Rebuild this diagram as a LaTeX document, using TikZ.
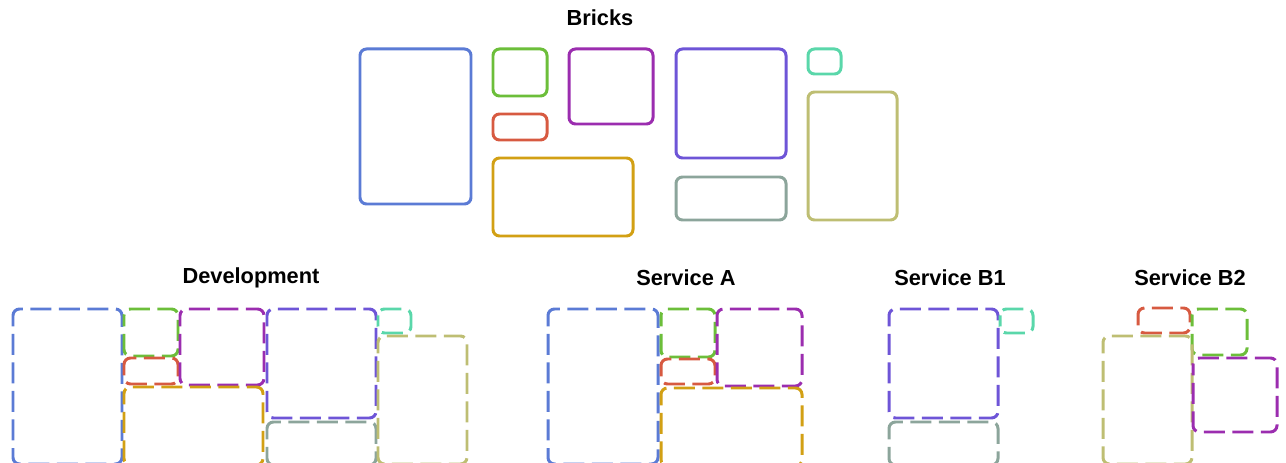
\documentclass[tikz,border=0pt]{standalone}
\usepackage{fontspec}
\setmainfont{Liberation Sans}

\definecolor{bkblue}{RGB}{91,123,213}
\definecolor{bkgreen}{RGB}{108,190,58}
\definecolor{bkred}{RGB}{215,90,65}
\definecolor{bkpurple}{RGB}{155,45,175}
\definecolor{bkgold}{RGB}{210,160,20}
\definecolor{bkviolet}{RGB}{110,85,215}
\definecolor{bkgrey}{RGB}{140,165,155}
\definecolor{bkteal}{RGB}{90,215,170}
\definecolor{bkolive}{RGB}{190,190,115}

\begin{document}
\begin{tikzpicture}[
  x=0.2mm, y=-0.2mm,
  font=\fontsize{12.4}{14}\selectfont\bfseries,
  brick/.style={
    line width=1.7pt,
    rounded corners=1.3mm
  },
  slot/.style={
    brick,
    dash pattern=on 4.2mm off 1.5mm,
    dash phase=2mm
  },
  title/.style={
    align=center,
    inner sep=0pt
  }
]

\useasboundingbox (0,0) rectangle (1286,463);
\clip (0,0) rectangle (1286,463);

% bricks
\node[title] (bricks) at (600,18) {Bricks};

\draw[brick, bkblue]   (360,49)  rectangle (471,204);
\draw[brick, bkgreen]  (493,49)  rectangle (547,96);
\draw[brick, bkred]    (493,114) rectangle (547,140);
\draw[brick, bkpurple] (569,49)  rectangle (653,124);
\draw[brick, bkgold]   (493,158) rectangle (633,236);
\draw[brick, bkviolet] (676,49)  rectangle (786,158);
\draw[brick, bkgrey]   (676,177) rectangle (786,220);
\draw[brick, bkteal]   (808,49)  rectangle (841,74);
\draw[brick, bkolive]  (808,92)  rectangle (897,220);

% development
\node[title] (dev) at (251,278) {Development};

\draw[slot, bkblue]   (13,309)  rectangle (122,464);
\draw[slot, bkgreen]  (124,309) rectangle (178,356);
\draw[slot, bkred]    (124,358) rectangle (178,384);
\draw[slot, bkpurple] (180,309) rectangle (264,385);
\draw[slot, bkgold]   (124,387) rectangle (263,465);
\draw[slot, bkviolet] (267,309) rectangle (376,418);
\draw[slot, bkgrey]   (267,422) rectangle (376,465);
\draw[slot, bkteal]   (378,309) rectangle (411,333);
\draw[slot, bkolive]  (378,336) rectangle (467,464);

% service A
\node[title] (srvA) at (686,278) {Service A};

\draw[slot, bkblue]   (548,309) rectangle (658,464);
\draw[slot, bkgreen]  (661,309) rectangle (715,357);
\draw[slot, bkred]    (661,359) rectangle (715,384);
\draw[slot, bkpurple] (717,309) rectangle (802,386);
\draw[slot, bkgold]   (661,388) rectangle (802,466);

% service B1
\node[title] (srvBa) at (950,278) {Service B1};

\draw[slot, bkviolet] (889,309)  rectangle (998,418);
\draw[slot, bkteal]   (1000,309) rectangle (1033,333);
\draw[slot, bkgrey]   (889,422)  rectangle (998,465);

% service B2
\node[title] (srvBb) at (1190,278) {Service B2};

\draw[slot, bkred]    (1138,308) rectangle (1190,333);
\draw[slot, bkgreen]  (1192,309) rectangle (1247,355);
\draw[slot, bkolive]  (1103,336) rectangle (1192,464);
\draw[slot, bkpurple] (1193,358) rectangle (1277,432);

\end{tikzpicture}
\end{document}
